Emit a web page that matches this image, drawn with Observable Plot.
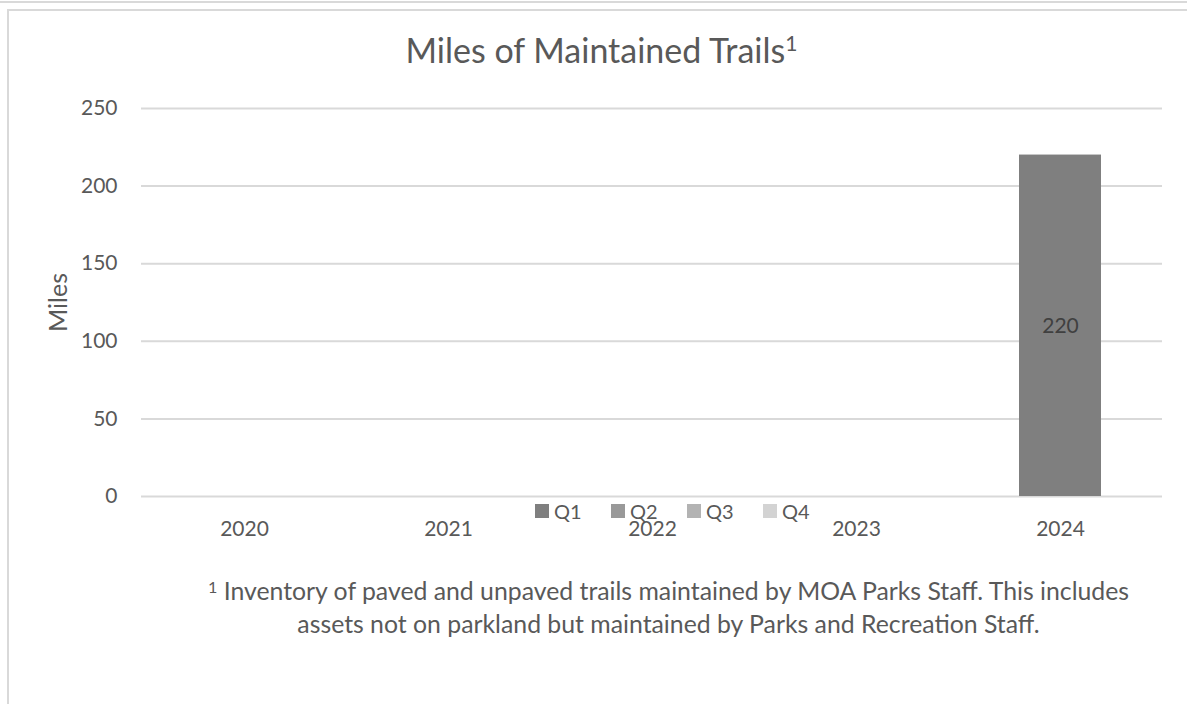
<!DOCTYPE html>
<html>
<head>
<meta charset="utf-8">
<script src="https://cdn.jsdelivr.net/npm/d3@7"></script>
<script src="https://cdn.jsdelivr.net/npm/@observablehq/plot@0.6"></script>
<style>
  html, body { margin: 0; padding: 0; background: #fff; }
  #wrap { position: relative; width: 1187px; height: 704px; overflow: hidden; font-family: Lato, "Noto Sans", sans-serif; color: #595959; }
  .line-top { position: absolute; left: 0; top: 1px; width: 1187px; height: 2px; background: #d9d9d9; }
  .box { position: absolute; left: 7px; top: 9px; width: 1200px; height: 720px; border-left: 2px solid #d9d9d9; border-top: 2px solid #d9d9d9; }
  #chart { position: absolute; left: 0; top: 0; }
  #title { position: absolute; left: 8px; width: 1187px; top: 33px; text-align: center; font-size: 34px; line-height: 1; }
  #title sup { font-size: 0.62em; vertical-align: 0.55em; line-height: 0; }
  #legend { position: absolute; top: 501px; left: 535px; display: flex; font-size: 20px; line-height: 1; }
  #legend .item { display: flex; align-items: center; width: 76px; }
  #legend .sw { width: 14px; height: 14px; margin-right: 5px; }
  #note { position: absolute; left: 0; width: 1187px; top: 574px; text-align: center; font-size: 24.8px; line-height: 33px; padding-left: 150px; box-sizing: border-box; }
  #note sup { font-size: 0.65em; vertical-align: 0.45em; line-height: 0; }
</style>
</head>
<body>
<div id="wrap">
  <div class="line-top"></div>
  <div class="box"></div>
  <div id="chart"></div>
  <div id="title"></div>
  <div id="legend"></div>
  <div id="note"></div>
</div>
<script>
const years = ["2020", "2021", "2022", "2023", "2024"];
const quarters = ["Q1", "Q2", "Q3", "Q4"];
const q1 = [null, null, null, null, 220];
const q2 = [null, null, null, null, null];
const q3 = [null, null, null, null, null];
const q4 = [null, null, null, null, null];
const quarterColors = ["#7f7f7f", "#999999", "#b3b3b3", "#d3d3d3"];
const yTicks = [0, 50, 100, 150, 200, 250];
const yLabel = "Miles";
const titleText = "Miles of Maintained Trails";
const noteLines = [
  "Inventory of paved and unpaved trails maintained by MOA Parks Staff. This includes",
  "assets not on parkland but maintained by Parks and Recreation Staff."
];

const series = [q1, q2, q3, q4];
const data = [];
years.forEach((y, i) => {
  quarters.forEach((q, j) => {
    const v = series[j][i];
    if (v != null) data.push({year: y, quarter: q, value: v});
  });
});

const chart = Plot.plot({
  width: 1187,
  height: 560,
  marginTop: 108,
  marginBottom: 64,
  marginLeft: 141,
  marginRight: 25,
  style: {background: "transparent", fontFamily: "Lato, 'Noto Sans', sans-serif", fontSize: "21px", color: "#595959"},
  x: {domain: years, paddingInner: 0.6, paddingOuter: 0.3, label: null},
  y: {domain: [0, 250], ticks: yTicks, label: null},
  color: {domain: quarters, range: quarterColors},
  marks: [
    Plot.gridY(yTicks, {stroke: "#d9d9d9", strokeOpacity: 1, strokeWidth: 2}),
    Plot.axisY({ticks: yTicks, tickSize: 0, tickPadding: 24, label: null, fill: "#595959"}),
    Plot.axisX({tickSize: 0, tickPadding: 25, label: null, fill: "#595959"}),
    Plot.text([yLabel], {frameAnchor: "left", textAnchor: "middle", rotate: -90, dx: -83, text: d => d, fontSize: 25, fill: "#595959"}),
    Plot.barY(data, Plot.stackY({x: "year", y: "value", z: "quarter", order: quarters, fill: "quarter"})),
    Plot.text(data, Plot.stackY({x: "year", y: "value", z: "quarter", order: quarters, text: d => String(d.value), fill: "#404040", fontSize: 21}))
  ]
});
document.getElementById("chart").appendChild(chart);

document.getElementById("title").innerHTML = titleText + "<sup>1</sup>";
document.getElementById("note").innerHTML = "<sup>1</sup> " + noteLines[0] + "<br>" + noteLines[1];
const leg = document.getElementById("legend");
quarters.forEach((q, i) => {
  const it = document.createElement("div");
  it.className = "item";
  const sw = document.createElement("div");
  sw.className = "sw";
  sw.style.background = quarterColors[i];
  const t = document.createElement("span");
  t.textContent = q;
  it.appendChild(sw); it.appendChild(t);
  leg.appendChild(it);
});
</script>
</body>
</html>
